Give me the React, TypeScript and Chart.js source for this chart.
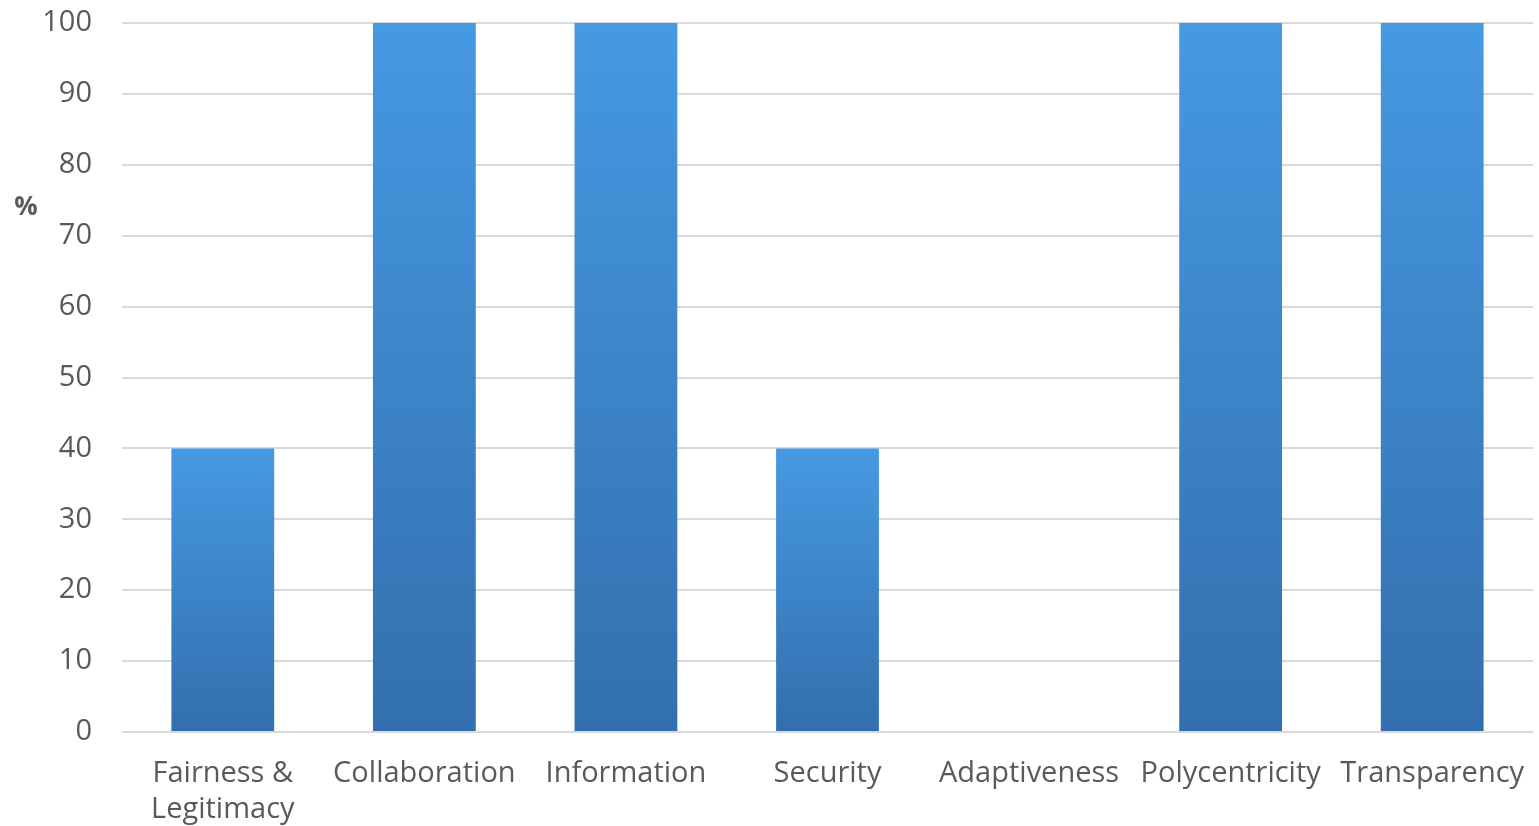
import React, { useEffect, useRef } from "react";
import { Chart, registerables } from "chart.js";

Chart.register(...registerables);

const categories: (string | string[])[] = [
  ["Fairness &", "Legitimacy"],
  "Collaboration",
  "Information",
  "Security",
  "Adaptiveness",
  "Polycentricity",
  "Transparency",
];
const values: number[] = [40, 100, 100, 40, 0, 100, 100];
const yTicks: number[] = [0, 10, 20, 30, 40, 50, 60, 70, 80, 90, 100];
const yUnit = "%";

const FONT = "'Open Sans', Lato, sans-serif";
const TEXT = "#595959";
const CLEAR = "rgba(0,0,0,0)";

export default function App() {
  const ref = useRef<HTMLCanvasElement | null>(null);

  useEffect(() => {
    document.body.style.margin = "0";
    const canvas = ref.current;
    if (!canvas) return;

    const unitPlugin = {
      id: "unitLabel",
      afterDraw(chart: any) {
        const ctx = chart.ctx;
        const y = chart.scales.y;
        ctx.save();
        ctx.font = `bold 26px ${FONT}`;
        ctx.fillStyle = TEXT;
        ctx.textAlign = "center";
        ctx.textBaseline = "middle";
        ctx.fillText(yUnit, 26, y.getPixelForValue(74));
        ctx.restore();
      },
    };

    const chart = new Chart(canvas, {
      type: "bar",
      data: {
        labels: categories,
        datasets: [
          {
            data: values,
            backgroundColor: (c: any) => {
              const chartObj = c.chart;
              const ys = chartObj.scales && chartObj.scales.y;
              if (!ys || c.raw === undefined) return "#3c85cc";
              const top = ys.getPixelForValue(c.raw);
              const bottom = ys.getPixelForValue(0);
              if (!isFinite(top) || !isFinite(bottom) || top === bottom) return "#3c85cc";
              const g = chartObj.ctx.createLinearGradient(0, top, 0, bottom);
              g.addColorStop(0, "#4699e3");
              g.addColorStop(1, "#336fae");
              return g;
            },
            borderWidth: 0,
            barPercentage: 0.51,
            categoryPercentage: 1,
          },
        ],
      },
      options: {
        responsive: false,
        animation: false,
        layout: { padding: { top: 23, right: 6, left: 0, bottom: 0 } },
        plugins: {
          legend: { display: false },
          tooltip: { enabled: false },
        },
        scales: {
          x: {
            grid: {
              display: true,
              drawOnChartArea: false,
              drawTicks: true,
              tickLength: 24,
              color: CLEAR,
              tickColor: CLEAR,
            },
            border: { display: false },
            ticks: {
              autoSkip: false,
              maxRotation: 0,
              minRotation: 0,
              padding: 0,
              color: TEXT,
              font: { family: FONT, size: 29, lineHeight: 1.24 },
            },
            afterFit: (s: any) => {
              s.height = 94;
            },
          },
          y: {
            min: 0,
            max: 100,
            afterBuildTicks: (s: any) => {
              s.ticks = yTicks.map((v) => ({ value: v }));
            },
            grid: {
              color: "#d9d9d9",
              lineWidth: 2,
              drawTicks: true,
              tickLength: 30,
              tickColor: CLEAR,
            },
            border: { display: false },
            ticks: {
              padding: 0,
              color: TEXT,
              font: { family: FONT, size: 29 },
            },
            afterFit: (s: any) => {
              s.width = 122;
            },
          },
        },
      },
      plugins: [unitPlugin],
    });

    return () => chart.destroy();
  }, []);

  return (
    <div style={{ width: 1539, height: 826, background: "#fff" }}>
      <canvas ref={ref} width={1539} height={826} style={{ display: "block" }} />
    </div>
  );
}
